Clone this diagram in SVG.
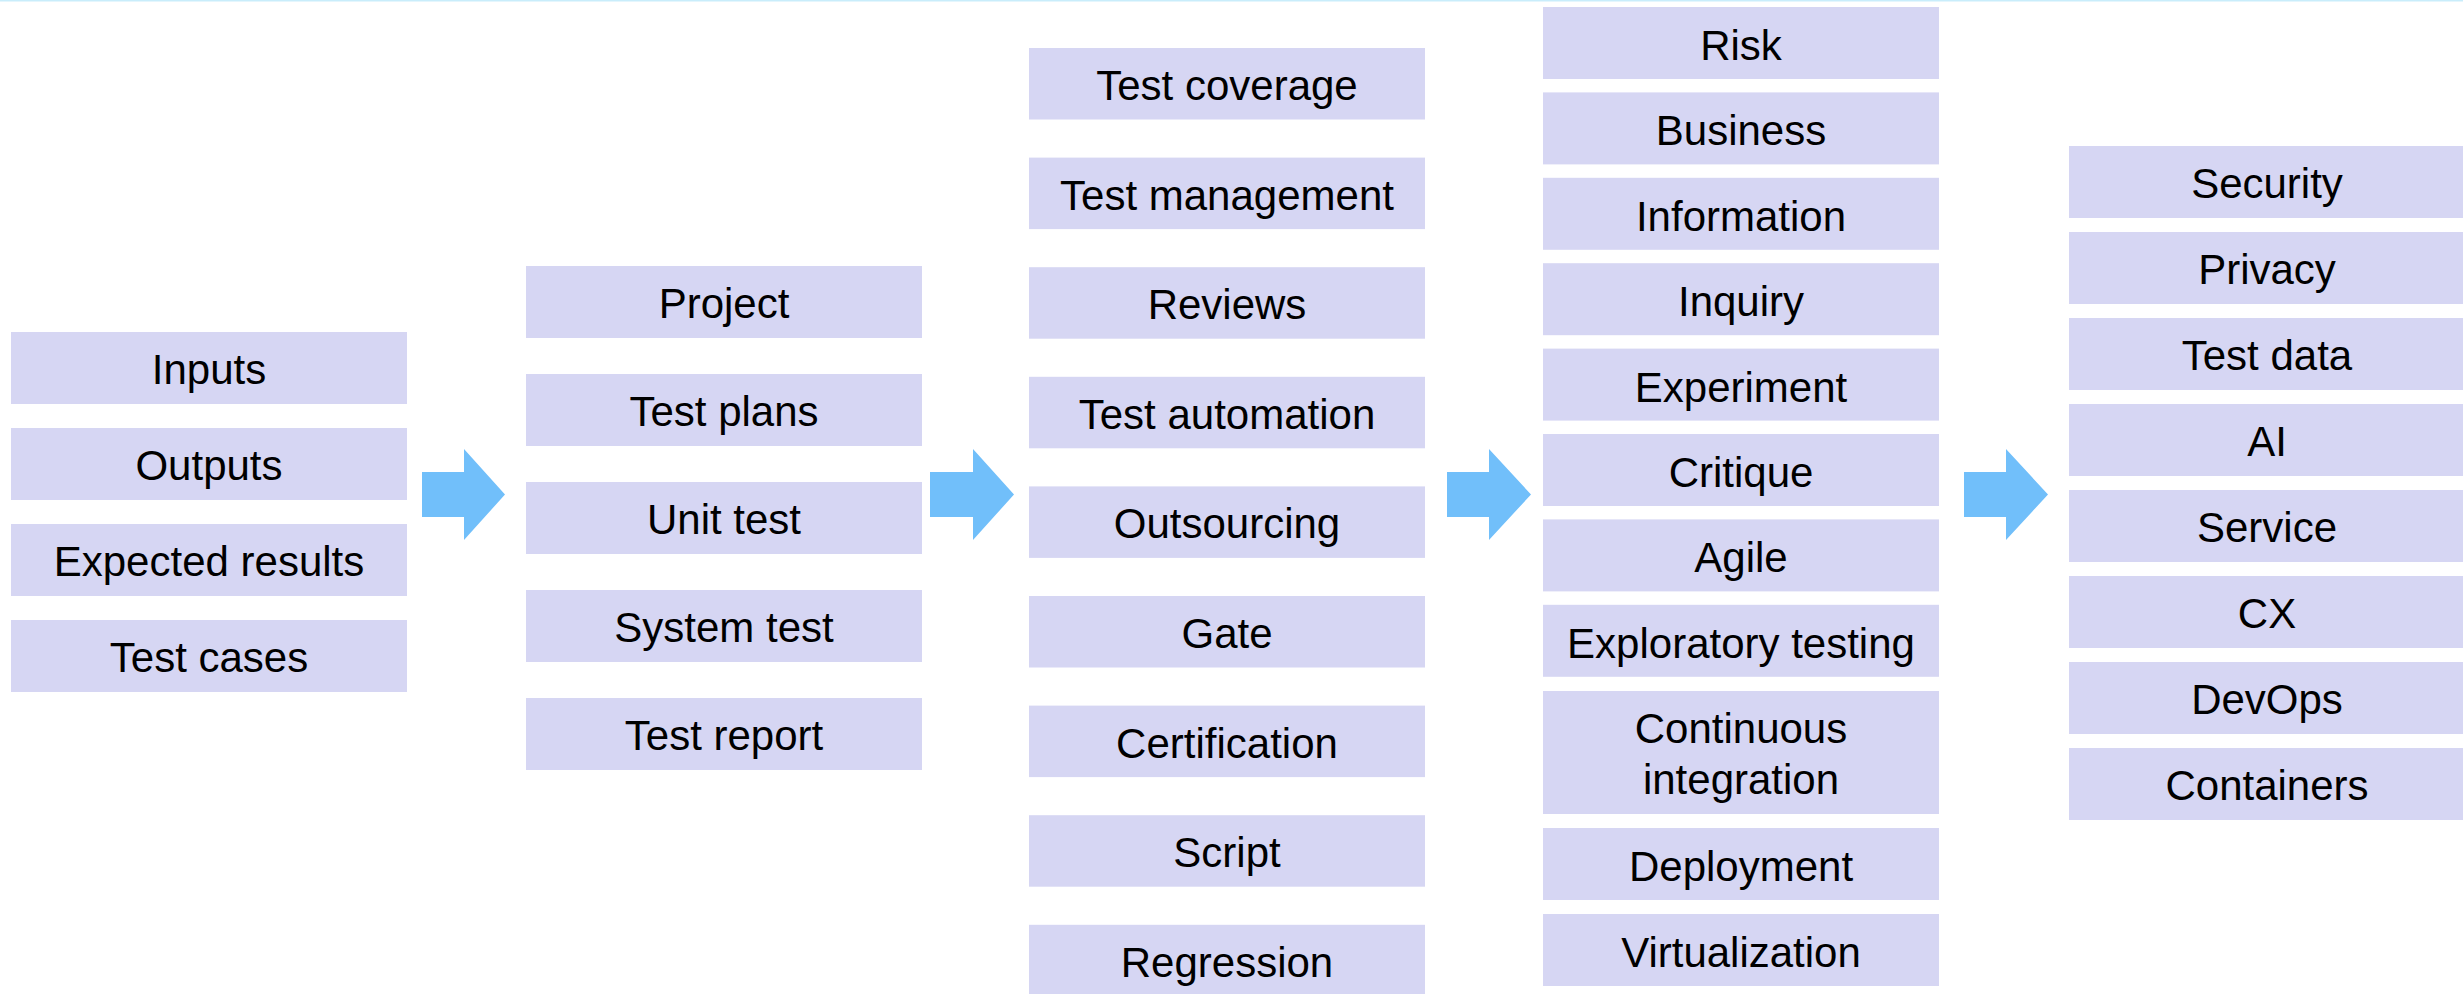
<svg xmlns="http://www.w3.org/2000/svg" width="2463" height="994" viewBox="0 0 2463 994">
<style>
.box{fill:#D6D6F3}
.t{font-family:"Liberation Sans",Arial,sans-serif;font-size:42px;fill:#000;text-anchor:middle}
.arr{fill:#71BFFA}
</style>
<rect x="0" y="0" width="2463" height="994" fill="#FFFFFF"/>
<rect x="0" y="0" width="2463" height="1.5" fill="#C9EDFB"/>
<g id="connectors">
<polygon class="arr" points="422,472 464,472 464,449 505,494.5 464,540 464,517 422,517"/>
<polygon class="arr" points="930,472 973,472 973,449 1014,494.5 973,540 973,517 930,517"/>
<polygon class="arr" points="1447,472 1489,472 1489,449 1531,494.5 1489,540 1489,517 1447,517"/>
<polygon class="arr" points="1964,472 2006,472 2006,449 2048,494.5 2006,540 2006,517 1964,517"/>
</g>
<g id="col1">
<g id="n-inputs"><rect class="box" x="11" y="332" width="396" height="72"/><text class="t" x="209" y="384">Inputs</text></g>
<g id="n-outputs"><rect class="box" x="11" y="428" width="396" height="72"/><text class="t" x="209" y="480">Outputs</text></g>
<g id="n-expected"><rect class="box" x="11" y="524" width="396" height="72"/><text class="t" x="209" y="576">Expected results</text></g>
<g id="n-testcases"><rect class="box" x="11" y="620" width="396" height="72"/><text class="t" x="209" y="672">Test cases</text></g>
</g>
<g id="col2">
<g id="n-project"><rect class="box" x="526" y="266" width="396" height="72"/><text class="t" x="724" y="318">Project</text></g>
<g id="n-testplans"><rect class="box" x="526" y="374" width="396" height="72"/><text class="t" x="724" y="426">Test plans</text></g>
<g id="n-unittest"><rect class="box" x="526" y="482" width="396" height="72"/><text class="t" x="724" y="534">Unit test</text></g>
<g id="n-systemtest"><rect class="box" x="526" y="590" width="396" height="72"/><text class="t" x="724" y="642">System test</text></g>
<g id="n-testreport"><rect class="box" x="526" y="698" width="396" height="72"/><text class="t" x="724" y="750">Test report</text></g>
</g>
<g id="col3">
<g id="n-coverage"><rect class="box" x="1029" y="48" width="396" height="71.5"/><text class="t" x="1227" y="100">Test coverage</text></g>
<g id="n-management"><rect class="box" x="1029" y="157.6" width="396" height="71.5"/><text class="t" x="1227" y="209.6">Test management</text></g>
<g id="n-reviews"><rect class="box" x="1029" y="267.2" width="396" height="71.5"/><text class="t" x="1227" y="319.2">Reviews</text></g>
<g id="n-automation"><rect class="box" x="1029" y="376.8" width="396" height="71.5"/><text class="t" x="1227" y="428.8">Test automation</text></g>
<g id="n-outsourcing"><rect class="box" x="1029" y="486.4" width="396" height="71.5"/><text class="t" x="1227" y="538.4">Outsourcing</text></g>
<g id="n-gate"><rect class="box" x="1029" y="596" width="396" height="71.5"/><text class="t" x="1227" y="648">Gate</text></g>
<g id="n-certification"><rect class="box" x="1029" y="705.6" width="396" height="71.5"/><text class="t" x="1227" y="757.6">Certification</text></g>
<g id="n-script"><rect class="box" x="1029" y="815.2" width="396" height="71.5"/><text class="t" x="1227" y="867.2">Script</text></g>
<g id="n-regression"><rect class="box" x="1029" y="924.8" width="396" height="71.5"/><text class="t" x="1227" y="976.8">Regression</text></g>
</g>
<g id="col4">
<g id="n-risk"><rect class="box" x="1543" y="7" width="396" height="72"/><text class="t" x="1741" y="60">Risk</text></g>
<g id="n-business"><rect class="box" x="1543" y="92.4" width="396" height="72"/><text class="t" x="1741" y="145.4">Business</text></g>
<g id="n-information"><rect class="box" x="1543" y="177.8" width="396" height="72"/><text class="t" x="1741" y="230.8">Information</text></g>
<g id="n-inquiry"><rect class="box" x="1543" y="263.2" width="396" height="72"/><text class="t" x="1741" y="316.2">Inquiry</text></g>
<g id="n-experiment"><rect class="box" x="1543" y="348.6" width="396" height="72"/><text class="t" x="1741" y="401.6">Experiment</text></g>
<g id="n-critique"><rect class="box" x="1543" y="434" width="396" height="72"/><text class="t" x="1741" y="487">Critique</text></g>
<g id="n-agile"><rect class="box" x="1543" y="519.4" width="396" height="72"/><text class="t" x="1741" y="572.4">Agile</text></g>
<g id="n-exploratory"><rect class="box" x="1543" y="604.8" width="396" height="72"/><text class="t" x="1741" y="657.8">Exploratory testing</text></g>
<g id="n-ci"><rect class="box" x="1543" y="691" width="396" height="123"/><text class="t" x="1741" y="743">Continuous</text><text class="t" x="1741" y="794">integration</text></g>
<g id="n-deployment"><rect class="box" x="1543" y="828" width="396" height="72"/><text class="t" x="1741" y="881">Deployment</text></g>
<g id="n-virtualization"><rect class="box" x="1543" y="914" width="396" height="72"/><text class="t" x="1741" y="967">Virtualization</text></g>
</g>
<g id="col5">
<g id="n-security"><rect class="box" x="2069" y="146" width="396" height="72"/><text class="t" x="2267" y="198">Security</text></g>
<g id="n-privacy"><rect class="box" x="2069" y="232" width="396" height="72"/><text class="t" x="2267" y="284">Privacy</text></g>
<g id="n-testdata"><rect class="box" x="2069" y="318" width="396" height="72"/><text class="t" x="2267" y="370">Test data</text></g>
<g id="n-ai"><rect class="box" x="2069" y="404" width="396" height="72"/><text class="t" x="2267" y="456">AI</text></g>
<g id="n-service"><rect class="box" x="2069" y="490" width="396" height="72"/><text class="t" x="2267" y="542">Service</text></g>
<g id="n-cx"><rect class="box" x="2069" y="576" width="396" height="72"/><text class="t" x="2267" y="628">CX</text></g>
<g id="n-devops"><rect class="box" x="2069" y="662" width="396" height="72"/><text class="t" x="2267" y="714">DevOps</text></g>
<g id="n-containers"><rect class="box" x="2069" y="748" width="396" height="72"/><text class="t" x="2267" y="800">Containers</text></g>
</g>
</svg>
